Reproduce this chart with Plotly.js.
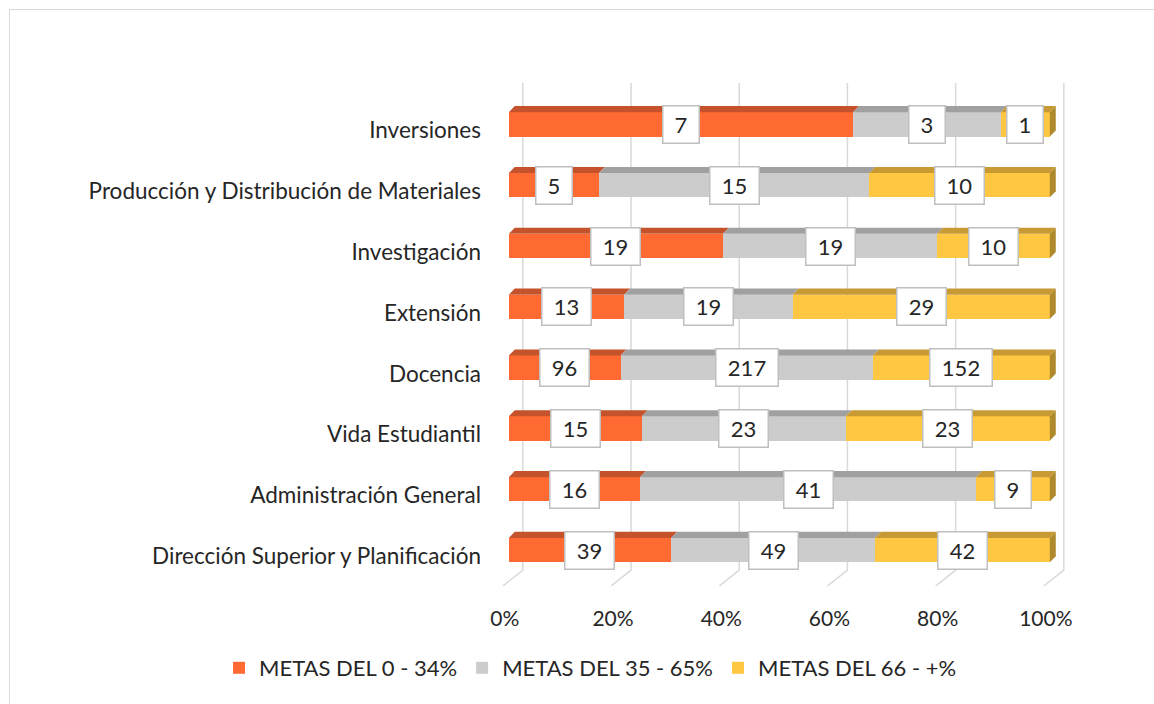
<!DOCTYPE html>
<html>
<head>
<meta charset="utf-8">
<script src="https://cdn.plot.ly/plotly-3.0.1.min.js"></script>
<style>
  html, body { margin:0; padding:0; background:#fff; }
  #wrap { position:relative; width:1154px; height:704px; overflow:hidden; }
  #chart { width:1154px; height:704px; }
  #frame { position:absolute; left:9px; top:9px; width:1200px; height:800px;
           border-left:1.5px solid #d9d9d9; border-top:1.5px solid #d9d9d9; pointer-events:none; }
</style>
</head>
<body>
<div id="wrap"><div id="chart"></div><div id="frame"></div></div>
<script>
// ---- data (bottom to top) ----
const categories = [
  'Dirección Superior y Planificación',
  'Administración General',
  'Vida Estudiantil',
  'Docencia',
  'Extensión',
  'Investigación',
  'Producción y Distribución de Materiales',
  'Inversiones'
];
const metasLow  = [39, 16, 15, 96, 13, 19, 5, 7];
const metasMid  = [49, 41, 23, 217, 19, 19, 15, 3];
const metasHigh = [42, 9, 23, 152, 29, 10, 10, 1];
const seriesNames = ['METAS DEL 0 - 34%', 'METAS DEL 35 - 65%', 'METAS DEL 66 - +%'];
const tickValues = [0, 20, 40, 60, 80, 100];
const tickLabels = ['0%', '20%', '40%', '60%', '80%', '100%'];

// ---- styles ----
const frontColors = ['#FF6A33', '#CCCCCC', '#FFC742'];
const topColors   = ['#C4532B', '#A0A0A0', '#C89A34'];
const sideColor   = '#AF8A2D';
const FONT = 'Lato, "Open Sans", sans-serif';
const TXT = '#262626';
const BW = 0.4;      // bar thickness (category units)
const DX = 1.1;      // depth offset along x (percent units)
const DY = 0.1;      // depth offset along y (category units)

const series = [metasLow, metasMid, metasHigh];
const yIdx = categories.map((_, i) => i);

const traces = series.map((vals, s) => ({
  type: 'bar',
  orientation: 'h',
  name: seriesNames[s],
  x: vals,
  y: yIdx,
  width: BW,
  marker: { color: frontColors[s], line: { width: 0 } },
  hoverinfo: 'skip'
}));

const shapes = [];
const annotations = [];

// gridlines drawn as 3D wall + floor
tickValues.forEach(v => {
  const bx = v + 2.59, fx = v - 1.11;
  shapes.push({
    type: 'path', xref: 'x', yref: 'y', layer: 'below',
    path: `M${bx},7.68 L${bx},-0.33 L${fx},-0.59`,
    line: { color: '#d9d9d9', width: 1.5 }
  });
});

categories.forEach((c, i) => {
  const total = series.reduce((a, arr) => a + arr[i], 0);
  let cum = 0;
  const yt = i + BW / 2, yb = i - BW / 2;
  series.forEach((arr, s) => {
    const p = arr[i] / total * 100;
    const x0 = cum, x1 = cum + p;
    // top face
    shapes.push({
      type: 'path', xref: 'x', yref: 'y', layer: 'above',
      path: `M${x0},${yt} L${x1},${yt} L${x1 + DX},${yt + DY} L${x0 + DX},${yt + DY} Z`,
      fillcolor: topColors[s], line: { width: 0 }
    });
    // label
    const txt = String(arr[i]);
    annotations.push({
      x: (x0 + x1) / 2, y: i, xref: 'x', yref: 'y',
      text: txt, showarrow: false,
      font: { family: FONT, size: 22, color: TXT },
      bgcolor: '#ffffff', bordercolor: '#bfbfbf', borderwidth: 1.5,
      borderpad: 3, width: 13 * txt.length + 16, height: 30,
      xanchor: 'center', yanchor: 'middle'
    });
    cum = x1;
  });
  // right side face
  shapes.push({
    type: 'path', xref: 'x', yref: 'y', layer: 'above',
    path: `M100,${yb} L100,${yt} L${100 + DX},${yt + DY} L${100 + DX},${yb + DY} Z`,
    fillcolor: sideColor, line: { width: 0 }
  });
});

const layout = {
  width: 1154, height: 704,
  margin: { l: 498, r: 82, t: 83, b: 118, pad: 0 },
  paper_bgcolor: '#ffffff', plot_bgcolor: 'rgba(0,0,0,0)',
  barmode: 'stack', barnorm: 'percent',
  bargap: 0,
  showlegend: true,
  font: { family: FONT, size: 20, color: TXT },
  xaxis: {
    range: [-2, 104.1], fixedrange: true, automargin: false,
    tickvals: tickValues, ticktext: tickLabels,
    showgrid: false, zeroline: false, showline: false, ticks: '',
    tickfont: { family: FONT, size: 21, color: TXT },
    ticklabelstandoff: 18, ticklabelshift: -4
  },
  yaxis: {
    range: [-0.59, 7.68], fixedrange: true, automargin: false,
    tickvals: yIdx, ticktext: categories,
    showgrid: false, zeroline: false, showline: false, ticks: '',
    tickfont: { family: FONT, size: 22.5, color: TXT },
    ticklabelstandoff: 16, ticklabelshift: 6
  },
  legend: {
    orientation: 'h', xref: 'paper', yref: 'paper',
    x: -0.486, xanchor: 'left', y: -0.163, yanchor: 'middle',
    font: { family: FONT, size: 22, color: TXT },
    traceorder: 'normal', itemclick: false, itemdoubleclick: false
  },
  shapes: shapes,
  annotations: annotations
};

Plotly.newPlot('chart', traces, layout, { displayModeBar: false, staticPlot: true });
</script>
</body>
</html>
